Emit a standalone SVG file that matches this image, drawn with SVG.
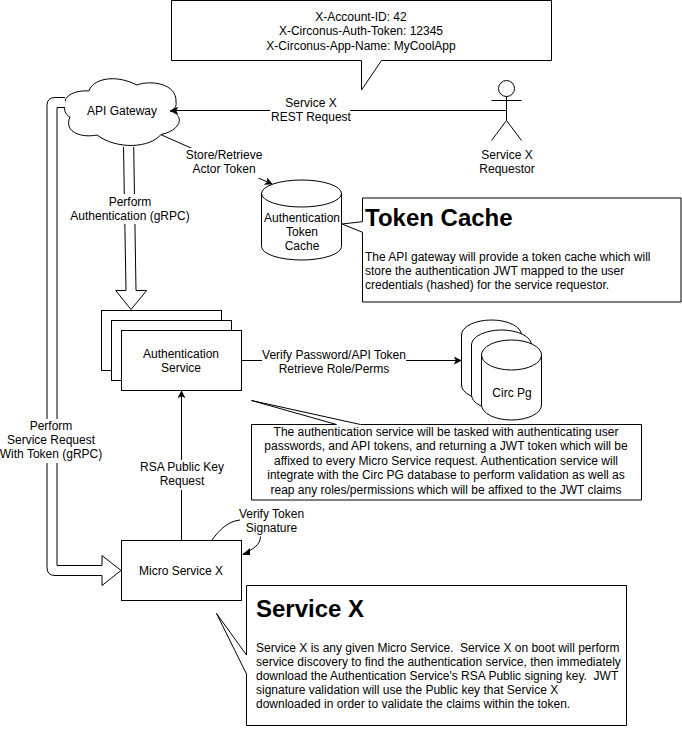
<svg xmlns="http://www.w3.org/2000/svg" width="682" height="741" viewBox="0 0 682 741">
<style>
text{font-family:"Liberation Sans",Arial,sans-serif;font-size:12px;fill:#000;text-anchor:middle}
.s{fill:#fff;stroke:#000;stroke-width:1}
.l{fill:none;stroke:#000;stroke-width:1}
.g{fill:#fff;stroke:#000;stroke-width:1}
.bg{fill:#fff;stroke:none}
.h{font-size:24px;font-weight:bold;text-anchor:start}
.p{text-anchor:start;white-space:pre}
</style>
<defs>
<marker id="a" viewBox="0 0 10 10" refX="9" refY="5" markerWidth="8" markerHeight="8" orient="auto" markerUnits="userSpaceOnUse"><path d="M0 0L10 5L0 10L2.500 5Z" fill="#000"/></marker>
</defs>
<rect width="682" height="741" fill="#fff"/>
<g id="api-gateway"><path class="s" d="M65 101C67 93 80 90 89 91C92 80 113 73 137 85C150 80 177 83 176 102C177 106 174 110 170 111C185 115 182 130 161 134.500C150 148 117 150 97 135C83 138 63 133 70 117C65 115 63 108 65 101Z"/>
<text x="122" y="115">API Gateway</text></g>
<g id="header-note"><path class="s" d="M171.500 0.500H551.500V60.500H381.500L361.500 90V60.500H171.500Z"/>
<text x="361" y="21">X-Account-ID: 42</text><text x="361" y="35">X-Circonus-Auth-Token: 12345</text><text x="361" y="50">X-Circonus-App-Name: MyCoolApp</text></g>
<g id="actor"><circle class="s" cx="506.500" cy="88.500" r="8"/><path class="l" d="M506.500 96.500V120.500M491.500 100.500H521.500M506.500 120.500L491.500 140.500M506.500 120.500L521.500 140.500"/>
<text x="507" y="159">Service X</text><text x="507" y="173">Requestor</text></g>
<g id="token-cache-store"><path class="s" d="M261.500 193.500A40 13.500 0 0 1 341.500 193.500V246.500A40 13.500 0 0 1 261.500 246.500Z"/><path class="l" d="M261.500 193.500A40 13.500 0 0 0 341.500 193.500"/>
<text x="302" y="222">Authentication</text><text x="302" y="236">Token</text><text x="302" y="250">Cache</text></g>
<g id="token-cache-note"><path class="s" d="M362.500 198H681V302H362.500V232.300L342 224L362.500 221.700Z"/>
<text class="h" x="365" y="226">Token Cache</text>
<text class="p" x="365" y="261">The API gateway will provide a token cache which will</text>
<text class="p" x="365" y="275">store the authentication JWT mapped to the user</text>
<text class="p" x="365" y="289">credentials (hashed) for the service requestor.</text></g>
<g id="auth-service"><rect class="s" x="101.500" y="310.500" width="120" height="60"/><rect class="s" x="111.500" y="320.500" width="120" height="60"/><rect class="s" x="121.500" y="330.500" width="120" height="60"/>
<text x="181" y="358">Authentication</text><text x="181" y="372">Service</text></g>
<g id="circ-pg">
<path class="s" d="M461.500 335A30 15 0 0 1 521.500 335V385A30 15 0 0 1 461.500 385Z"/>
<path class="s" d="M471.500 345A30 15 0 0 1 531.500 345V395A30 15 0 0 1 471.500 395Z"/>
<path class="s" d="M481.500 355A30 15 0 0 1 541.500 355V405A30 15 0 0 1 481.500 405Z"/>
<path class="l" d="M481.500 355A30 15 0 0 0 541.500 355"/>
<text x="512" y="397">Circ Pg</text></g>
<g id="auth-note"><path class="s" d="M251.500 424.500H336.500L251.500 400.500L360.500 424.500H641.500V500H251.500Z"/>
<text x="446" y="436">The authentication service will be tasked with authenticating user</text>
<text x="446" y="450">passwords, and API tokens, and returning a JWT token which will be</text>
<text x="446" y="465">affixed to every Micro Service request. Authentication service will</text>
<text x="446" y="479">integrate with the Circ PG database to perform validation as well as</text>
<text x="446" y="494">reap any roles/permissions which will be affixed to the JWT claims</text></g>
<g id="micro-service"><rect class="s" x="121.500" y="540.500" width="120" height="60"/><text x="181" y="575">Micro Service X</text></g>
<g id="service-note"><path class="s" d="M246.500 585.500H626.500V725.500H246.500V674L216.500 613.500L246.500 655Z"/>
<text class="h" x="256" y="617">Service X</text>
<text class="p" x="256" y="652">Service X is any given Micro Service.  Service X on boot will perform</text>
<text class="p" x="256" y="666">service discovery to find the authentication service, then immediately</text>
<text class="p" x="256" y="680">download the Authentication Service's RSA Public signing key.  JWT</text>
<text class="p" x="256" y="694">signature validation will use the Public key that Service X</text>
<text class="p" x="256" y="708">downloaded in order to validate the claims within the token.</text></g>
<g id="connectors">
<path class="l" d="M506.500 110.500H171" marker-end="url(#a)"/>
<rect class="bg" x="270" y="96" width="80" height="30"/>
<text x="311" y="107">Service X</text><text x="311" y="121">REST Request</text>
<path class="l" d="M161 134.700L272 184" marker-end="url(#a)"/>
<rect class="bg" x="187" y="148" width="74" height="30"/>
<text x="224" y="159">Store/Retrieve</text><text x="224" y="173">Actor Token</text>
<path class="g" d="M123.500 147L126 290.500H115.700L131 309.500L146.700 290.500H136L133.700 147"/>
<rect class="bg" x="69" y="194" width="122" height="30"/>
<text x="130" y="206">Perform</text><text x="130" y="220">Authentication (gRPC)</text>
<path class="g" d="M65 97.500H55Q47 97.500 47 105.500V567.500Q47 575.500 55 575.500H102V585.500L121 570.500L102 555.500V565.500H57V107.500H65"/>
<rect class="bg" x="2" y="419" width="98" height="44"/>
<text x="51" y="430">Perform</text><text x="51" y="444">Service Request</text><text x="51" y="458">With Token (gRPC)</text>
<path class="l" d="M241.500 360.500H461" marker-end="url(#a)"/>
<rect class="bg" x="262" y="348" width="144" height="30"/>
<text x="334" y="359">Verify Password/API Token</text><text x="334" y="373">Retrieve Role/Perms</text>
<path class="l" d="M181.500 540V391" marker-end="url(#a)"/>
<rect class="bg" x="139" y="460" width="86" height="30"/>
<text x="182" y="471">RSA Public Key</text><text x="182" y="485">Request</text>
<path class="l" d="M212 540C220 529 229 521 240 520M260.500 536.500C260.500 545 252 550 243 554"/>
<path d="M242 555L250 548L250 555Z" fill="#000"/>
<text x="271.500" y="518">Verify Token</text><text x="271.500" y="532">Signature</text>
</g>
</svg>
